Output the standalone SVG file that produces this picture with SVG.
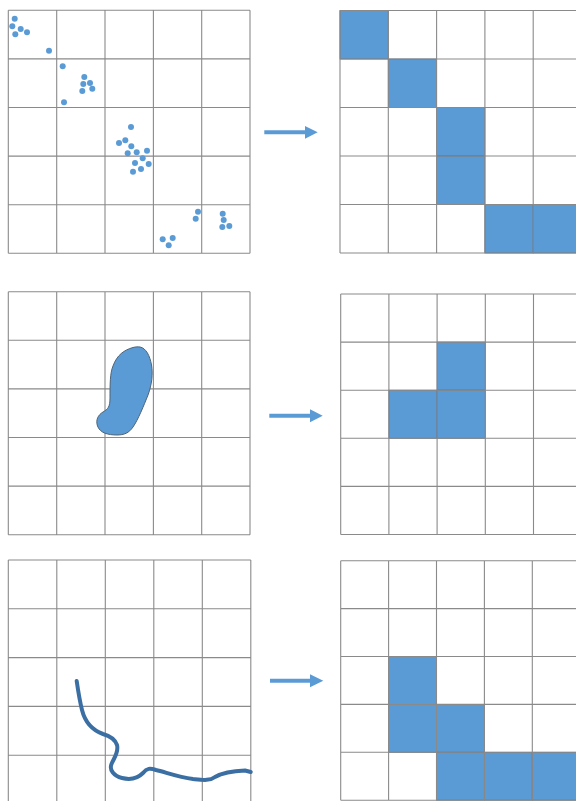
<svg xmlns="http://www.w3.org/2000/svg" width="576" height="801" viewBox="0 0 576 801">
<style>
.grid{fill:none;stroke:#8a8a8a;stroke-width:1.1}
.cell{fill:#5b9bd5;stroke:#4a6f92;stroke-width:0.8}
.dot{fill:#5b9bd5}
.arrow line{stroke:#5b9bd5;stroke-width:4}
.arrow polygon{fill:#5b9bd5}
</style>
<rect width="576" height="801" fill="#ffffff"/>

<g id="grid-top-left">
<path class="grid" d="M8.3 10.3H250M8.3 58.9H250M8.3 107.5H250M8.3 156.1H250M8.3 204.7H250M8.3 253.3H250M8.3 10.3V253.3M56.7 10.3V253.3M105 10.3V253.3M153.4 10.3V253.3M201.7 10.3V253.3M250 10.3V253.3"/>
<g class="dot">
<circle cx="14.7" cy="18.7" r="3"/><circle cx="12.3" cy="26.3" r="3"/><circle cx="20.7" cy="29" r="3"/><circle cx="15.3" cy="34.3" r="3"/><circle cx="27" cy="32.3" r="3"/>
<circle cx="49" cy="50.7" r="3"/>
<circle cx="62.7" cy="66.3" r="3"/><circle cx="84.3" cy="77" r="3"/><circle cx="83.3" cy="84" r="3"/><circle cx="90" cy="83" r="3"/><circle cx="92.3" cy="88.7" r="3"/><circle cx="82.3" cy="91" r="3"/><circle cx="64" cy="102.3" r="3"/>
<circle cx="131" cy="127" r="3"/><circle cx="119" cy="143" r="3"/><circle cx="125.3" cy="140.3" r="3"/><circle cx="131.3" cy="146.3" r="3"/><circle cx="127.7" cy="153.3" r="3"/><circle cx="136.7" cy="152.3" r="3"/><circle cx="147" cy="150.7" r="3"/><circle cx="142.7" cy="158.3" r="3"/><circle cx="135" cy="163" r="3"/><circle cx="148.7" cy="164" r="3"/><circle cx="141" cy="169" r="3"/><circle cx="133" cy="171.7" r="3"/>
<circle cx="198" cy="211.7" r="3"/><circle cx="195.7" cy="218.7" r="3"/><circle cx="222.7" cy="213.7" r="3"/><circle cx="223.7" cy="220" r="3"/><circle cx="229.3" cy="226" r="3"/><circle cx="222.3" cy="227" r="3"/>
<circle cx="162.7" cy="239.3" r="3"/><circle cx="172.7" cy="238" r="3"/><circle cx="168.7" cy="245.3" r="3"/>
</g>
</g>

<g id="grid-top-right">
<rect class="cell" x="340" y="10.5" width="48.3" height="48.5"/>
<rect class="cell" x="388.3" y="59" width="48.3" height="48.5"/>
<rect class="cell" x="436.6" y="107.5" width="48.3" height="48.5"/>
<rect class="cell" x="436.6" y="156" width="48.3" height="48.5"/>
<rect class="cell" x="484.9" y="204.5" width="48.3" height="48.5"/>
<rect class="cell" x="533.2" y="204.5" width="48.3" height="48.5"/>
<path class="grid" d="M340 10.5H581.5M340 59H581.5M340 107.5H581.5M340 156H581.5M340 204.5H581.5M340 253H581.5M340 10.5V253M388.3 10.5V253M436.6 10.5V253M484.9 10.5V253M533.2 10.5V253"/>
</g>

<g id="grid-mid-left">
<path class="grid" d="M8.3 291.7H250M8.3 340.3H250M8.3 388.9H250M8.3 437.5H250M8.3 486.1H250M8.3 534.7H250M8.3 291.7V534.7M56.7 291.7V534.7M105 291.7V534.7M153.4 291.7V534.7M201.7 291.7V534.7M250 291.7V534.7"/>
<path fill="#5b9bd5" stroke="#4d6478" stroke-width="1" d="M140 347 C146 348 150 356 151.5 365 C153 374 152 384 148 395 C144 405 138 420 133 427 C129 433 124 435 117 435 C108 435 100 433 97.5 426 C95.5 420 98 415 103 412 C108 409 110 407 110 398 C110 385 110 373 113 366 C117 355 124 350 133 347.5 C136 346.7 138 346.8 140 347 Z"/>
</g>

<g id="grid-mid-right">
<rect class="cell" x="437.1" y="342.1" width="48.2" height="48.1"/>
<rect class="cell" x="388.9" y="390.2" width="48.2" height="48.1"/>
<rect class="cell" x="437.1" y="390.2" width="48.2" height="48.1"/>
<path class="grid" d="M340.7 294H581.7M340.7 342.1H581.7M340.7 390.2H581.7M340.7 438.3H581.7M340.7 486.4H581.7M340.7 534.5H581.7M340.7 294V534.5M388.9 294V534.5M437.1 294V534.5M485.3 294V534.5M533.5 294V534.5"/>
</g>

<g id="grid-bottom-left">
<path class="grid" d="M8.3 560H250.8M8.3 608.8H250.8M8.3 657.6H250.8M8.3 706.4H250.8M8.3 755.2H250.8M8.3 560V804M56.8 560V804M105.3 560V804M153.8 560V804M202.3 560V804M250.8 560V804"/>
<path fill="none" stroke="#3b6fa3" stroke-width="4" stroke-linecap="round" stroke-linejoin="round" d="M76.7 681 C78 690 80 702 82 710 C85 722 92 730 103 734 C110 736 115 739 117 745 C119 752 114 758 111.5 764 C109 770 114 776 122 778 C130 780 138 778 143 773 C147 768 150 768 156 770 C165 772 178 777 193 779 C203 780 210 781 215 777 C222 773 232 771 245 770.5 L250.7 772"/>
</g>

<g id="grid-bottom-right">
<rect class="cell" x="388.6" y="656.5" width="47.9" height="47.9"/>
<rect class="cell" x="388.6" y="704.4" width="47.9" height="47.9"/>
<rect class="cell" x="436.5" y="704.4" width="47.9" height="47.9"/>
<rect class="cell" x="436.5" y="752.3" width="47.9" height="47.9"/>
<rect class="cell" x="484.4" y="752.3" width="47.9" height="47.9"/>
<rect class="cell" x="532.3" y="752.3" width="47.9" height="47.9"/>
<path class="grid" d="M340.7 560.7H580.2M340.7 608.6H580.2M340.7 656.5H580.2M340.7 704.4H580.2M340.7 752.3H580.2M340.7 800.2H580.2M340.7 560.7V800.2M388.6 560.7V800.2M436.5 560.7V800.2M484.4 560.7V800.2M532.3 560.7V800.2"/>
</g>

<g id="connectors">
<g class="arrow"><line x1="264.3" y1="132.3" x2="306" y2="132.3"/><polygon points="305,126 317.7,132.3 305,138.8"/></g>
<g class="arrow"><line x1="269.3" y1="415.7" x2="311" y2="415.7"/><polygon points="310,409.2 322.7,415.7 310,422.2"/></g>
<g class="arrow"><line x1="270" y1="680.7" x2="311" y2="680.7"/><polygon points="310,674.2 323.3,680.7 310,687.2"/></g>
</g>
</svg>
